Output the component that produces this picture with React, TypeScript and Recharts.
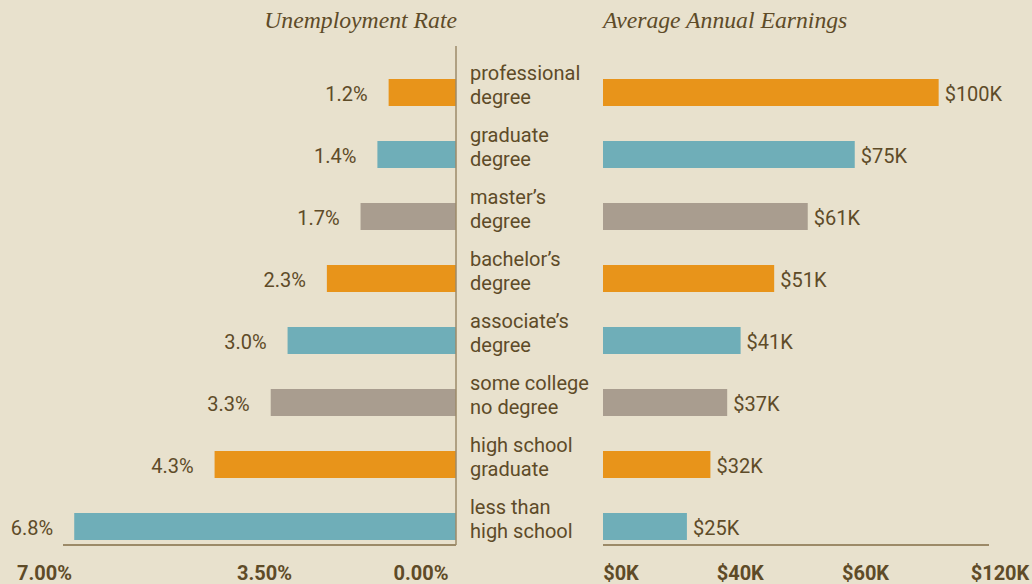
import React from "react";
import { BarChart, Bar, XAxis, YAxis, Cell, LabelList } from "recharts";

const categories = [
  "professional\ndegree",
  "graduate\ndegree",
  "master’s\ndegree",
  "bachelor’s\ndegree",
  "associate’s\ndegree",
  "some college\nno degree",
  "high school\ngraduate",
  "less than\nhigh school",
];
const unemploymentRates = [1.2, 1.4, 1.7, 2.3, 3.0, 3.3, 4.3, 6.8];
const annualEarningsK = [100, 75, 61, 51, 41, 37, 32, 25];
const unemploymentTicks = [7, 3.5, 0];
const unemploymentTickLabels = ["7.00%", "3.50%", "0.00%"];
const earningsTicks = [0, 40, 80, 115];
const earningsTickLabels = ["$0K", "$40K", "$60K", "$120K"];
const barColors = ["#E8941A", "#6FAEB8", "#A99D8F"];

const data = categories.map((c, i) => ({
  cat: c,
  rate: unemploymentRates[i],
  earn: annualEarningsK[i],
}));

const BG = "#E8E1CD";
const TEXT = "#5E4B28";
const LINE = "#9C8A68";
const SANS = "Roboto, 'Noto Sans', sans-serif";
const SERIF = "'Liberation Serif', 'DejaVu Serif', serif";

const leftTickDx = [-18.5, 5, -35];
const rightTickDx = [18, 3, -6, 11];

const CategoryTick = (props: any) => {
  const { x, y, payload } = props;
  const lines = String(payload.value).split("\n");
  return (
    <text fill={TEXT} fontSize={20} fontFamily={SANS} textAnchor="start">
      <tspan x={x} y={y - 12}>{lines[0]}</tspan>
      <tspan x={x} y={y + 11.5}>{lines[1]}</tspan>
    </text>
  );
};

const LeftBottomTick = (props: any) => {
  const { x, y, payload } = props;
  const i = unemploymentTicks.indexOf(Number(payload.value));
  return (
    <text
      x={x + (leftTickDx[i] || 0)}
      y={y}
      dy="0.71em"
      textAnchor="middle"
      fill={TEXT}
      fontSize={20}
      fontWeight={700}
      fontFamily={SANS}
    >
      {unemploymentTickLabels[i]}
    </text>
  );
};

const RightBottomTick = (props: any) => {
  const { x, y, payload } = props;
  const i = earningsTicks.indexOf(Number(payload.value));
  return (
    <text
      x={x + (rightTickDx[i] || 0)}
      y={y}
      dy="0.71em"
      textAnchor="middle"
      fill={TEXT}
      fontSize={20}
      fontWeight={700}
      fontFamily={SANS}
    >
      {earningsTickLabels[i]}
    </text>
  );
};

const RateLabel = (props: any) => {
  const x = Number(props.x);
  const w = Number(props.width);
  const y = Number(props.y);
  const h = Number(props.height);
  const left = Math.min(x, x + w);
  return (
    <text
      x={left - 21}
      y={y + h / 2}
      dy={1}
      textAnchor="end"
      dominantBaseline="central"
      fill={TEXT}
      fontSize={20}
      fontFamily={SANS}
    >
      {Number(props.value).toFixed(1) + "%"}
    </text>
  );
};

const EarnLabel = (props: any) => {
  const x = Number(props.x);
  const w = Number(props.width);
  const y = Number(props.y);
  const h = Number(props.height);
  const right = Math.max(x, x + w);
  return (
    <text
      x={right + 6}
      y={y + h / 2}
      dy={1}
      textAnchor="start"
      dominantBaseline="central"
      fill={TEXT}
      fontSize={20}
      fontFamily={SANS}
    >
      {"$" + props.value + "K"}
    </text>
  );
};

export default function App() {
  return (
    <div
      style={{
        position: "absolute",
        left: 0,
        top: 0,
        width: 1032,
        height: 584,
        background: BG,
        overflow: "hidden",
      }}
    >
      <svg width={1032} height={44} style={{ position: "absolute", left: 0, top: 0 }}>
        <text
          x={457}
          y={28}
          textAnchor="end"
          fill={TEXT}
          fontSize={23.7}
          fontStyle="italic"
          fontFamily={SERIF}
        >
          Unemployment Rate
        </text>
        <text
          x={603}
          y={28}
          textAnchor="start"
          fill={TEXT}
          fontSize={23.7}
          fontStyle="italic"
          fontFamily={SERIF}
        >
          Average Annual Earnings
        </text>
      </svg>

      <div style={{ position: "absolute", left: 0, top: 0 }}>
        <BarChart
          width={603}
          height={584}
          data={data}
          layout="vertical"
          margin={{ top: 46, right: 0, bottom: 0, left: 63 }}
        >
          <XAxis
            type="number"
            dataKey="rate"
            domain={[0, 7]}
            reversed
            ticks={unemploymentTicks}
            interval={0}
            height={39}
            tickSize={0}
            tickMargin={21}
            tickLine={false}
            axisLine={{ stroke: LINE, strokeWidth: 2 }}
            tick={<LeftBottomTick />}
          />
          <YAxis
            type="category"
            dataKey="cat"
            orientation="right"
            width={147}
            padding={{ top: 15, bottom: -12 }}
            tickSize={0}
            tickMargin={14}
            tickLine={false}
            interval={0}
            axisLine={{ stroke: LINE, strokeWidth: 1.5 }}
            tick={<CategoryTick />}
          />
          <Bar dataKey="rate" barSize={27} isAnimationActive={false}>
            {data.map((d, i) => (
              <Cell key={d.cat} fill={barColors[i % 3]} />
            ))}
            <LabelList dataKey="rate" content={<RateLabel />} />
          </Bar>
        </BarChart>
      </div>

      <div style={{ position: "absolute", left: 603, top: 0 }}>
        <BarChart
          width={429}
          height={584}
          data={data}
          layout="vertical"
          margin={{ top: 46, right: 43, bottom: 0, left: 0 }}
        >
          <XAxis
            type="number"
            dataKey="earn"
            domain={[0, 115]}
            ticks={earningsTicks}
            interval={0}
            height={39}
            tickSize={0}
            tickMargin={21}
            tickLine={false}
            axisLine={{ stroke: LINE, strokeWidth: 2 }}
            tick={<RightBottomTick />}
          />
          <YAxis
            type="category"
            dataKey="cat"
            width={0}
            padding={{ top: 15, bottom: -12 }}
            tick={false}
            tickLine={false}
            axisLine={{ stroke: LINE, strokeWidth: 1.5 }}
          />
          <Bar dataKey="earn" barSize={27} isAnimationActive={false}>
            {data.map((d, i) => (
              <Cell key={d.cat} fill={barColors[i % 3]} />
            ))}
            <LabelList dataKey="earn" content={<EarnLabel />} />
          </Bar>
        </BarChart>
      </div>
    </div>
  );
}
